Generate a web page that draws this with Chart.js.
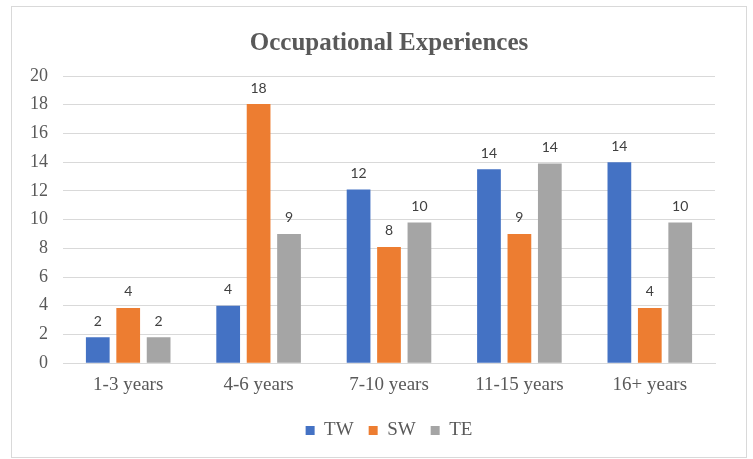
<!DOCTYPE html>
<html>
<head>
<meta charset="utf-8">
<script src="https://cdn.jsdelivr.net/npm/chart.js@4"></script>
<style>
  html, body { margin: 0; padding: 0; background: #fff; overflow: hidden; }
  #box {
    position: absolute; left: 11px; top: 6px;
    width: 734px; height: 450px;
    border: 1px solid #d9d9d9;
  }
</style>
</head>
<body>
<div id="box"><canvas id="renderCanva"></canvas></div>
<script>
// datos
const categorias = ["1-3 years", "4-6 years", "7-10 years", "11-15 years", "16+ years"];
const valoresTW = [1.8, 4.0, 12.1, 13.5, 14.0];
const valoresSW = [3.85, 18.05, 8.1, 9.0, 3.85];
const valoresTE = [1.8, 9.0, 9.8, 13.9, 9.8];
// etiquetas que muestra el grafico sobre cada barra
const etiquetasTW = ["2", "4", "12", "14", "14"];
const etiquetasSW = ["4", "18", "8", "9", "4"];
const etiquetasTE = ["2", "9", "10", "14", "10"];
const ticksY = [0, 2, 4, 6, 8, 10, 12, 14, 16, 18, 20];

const ctx = document.querySelector("#renderCanva");
const serif = "'Liberation Serif', 'DejaVu Serif', serif";

// dibujar los numeros sobre las barras
const etiquetasPlugin = {
  id: "etiquetas",
  afterDatasetsDraw(chart) {
    const c = chart.ctx;
    c.save();
    c.font = "14px Lato, 'Open Sans', sans-serif";
    c.fillStyle = "#404040";
    c.textAlign = "center";
    c.textBaseline = "bottom";
    chart.data.datasets.forEach((ds, i) => {
      chart.getDatasetMeta(i).data.forEach((bar, j) => {
        c.fillText(ds.etiquetas[j], bar.x, bar.y - 9);
      });
    });
    c.restore();
  },
};

new Chart(ctx, {
  type: "bar",
  data: {
    labels: categorias,
    datasets: [
      { label: "TW", data: valoresTW, etiquetas: etiquetasTW, backgroundColor: "#4472C4" },
      { label: "SW", data: valoresSW, etiquetas: etiquetasSW, backgroundColor: "#ED7D31" },
      { label: "TE", data: valoresTE, etiquetas: etiquetasTE, backgroundColor: "#A5A5A5" },
    ],
  },
  options: {
    responsive: true,
    maintainAspectRatio: false,
    animation: false,
    datasets: { bar: { categoryPercentage: 0.7, barPercentage: 0.78 } },
    layout: { padding: { left: 3, right: 31, top: 3, bottom: 7 } },
    plugins: {
      title: {
        display: true,
        fullSize: false,
        text: "Occupational Experiences",
        color: "#595959",
        font: { family: serif, size: 25, weight: "bold" },
        padding: { top: 19, bottom: 17 },
      },
      legend: {
        position: "bottom",
        fullSize: false,
        labels: {
          color: "#595959",
          font: { family: serif, size: 19 },
          boxWidth: 9,
          boxHeight: 9,
          padding: 15,
        },
      },
      tooltip: { enabled: false },
    },
    scales: {
      x: {
        grid: { display: false, drawTicks: false },
        border: { color: "#d9d9d9" },
        ticks: { color: "#595959", font: { family: serif, size: 19 }, padding: 10 },
      },
      y: {
        min: 0,
        max: 20,
        afterBuildTicks: (axis) => { axis.ticks = ticksY.map((v) => ({ value: v })); },
        grid: { color: "#d9d9d9", drawTicks: false },
        border: { display: false },
        ticks: { color: "#595959", font: { family: serif, size: 18 }, padding: 15 },
      },
    },
  },
  plugins: [etiquetasPlugin],
});
</script>
</body>
</html>
